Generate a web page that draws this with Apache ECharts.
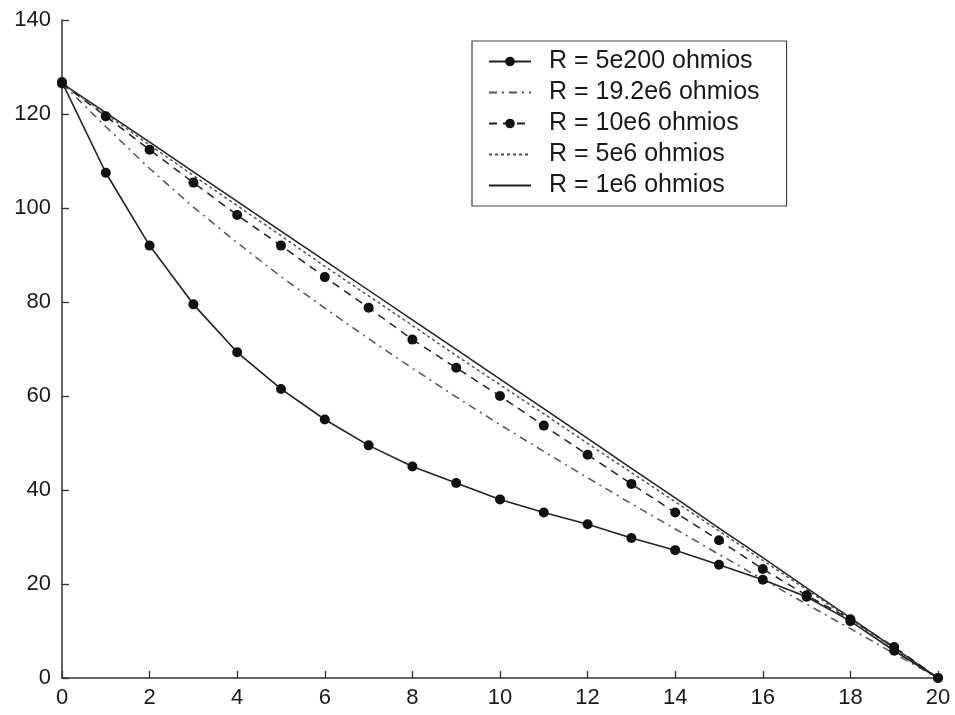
<!DOCTYPE html>
<html lang="es">

<head>
  <meta charset="UTF-8">
  <title>echarts</title>
  <script src="https://cdn.jsdelivr.net/npm/echarts@6/dist/echarts.min.js"></script>
  <style>
    html,
    body {
      padding: 0;
      margin: 0;
      background: #fff;
    }

    #chart {
      height: 715px;
      width: 955px;
    }
  </style>
</head>

<body>
  <div id="chart"></div>
  <script>
    // posiciones a lo largo de la cadena (eje x)
    const xValues = [0, 1, 2, 3, 4, 5, 6, 7, 8, 9, 10, 11, 12, 13, 14, 15, 16, 17, 18, 19, 20]

    const r5e200 = [126.8, 107.5, 92, 79.5, 69.3, 61.5, 55, 49.5, 45, 41.5, 38,
      35.2, 32.7, 29.8, 27.2, 24.1, 20.9, 17.3, 12.1, 5.8, 0]
    const r19e6 = [126.5, 117.3, 108.4, 100.2, 92.6, 85.4, 78.7, 72.2, 65.9, 59.8, 53.9,
      48.2, 42.6, 37.1, 31.7, 26.3, 21.0, 15.7, 10.5, 5.2, 0]
    const r10e6 = [126.5, 119.5, 112.4, 105.4, 98.5, 92, 85.3, 78.8, 72, 66, 60,
      53.7, 47.5, 41.3, 35.2, 29.3, 23.2, 17.6, 12.5, 6.6, 0]
    const r5e6 = [126.5, 120, 113.4, 106.9, 100.5, 94.1, 87.6, 81.3, 75, 68.6, 62.4,
      56.2, 49.9, 43.7, 37.5, 31.3, 25.0, 18.8, 12.5, 6.3, 0]
    const r1e6 = [126.5, 120.3, 114.0, 107.7, 101.4, 95.1, 88.8, 82.5, 76.2, 69.9, 63.6,
      57.3, 51.0, 44.6, 38.3, 31.9, 25.6, 19.2, 12.8, 6.4, 0]

    const pares = ys => xValues.map((x, i) => [x, ys[i]])
    const sinMarca = { opacity: 0 } // la leyenda no lleva punto para las curvas sin marcadores

    const chart = echarts.init(document.getElementById('chart'))
    chart.setOption({
      animation: false,
      textStyle: { fontFamily: 'Liberation Sans, Arial, sans-serif' },
      grid: { left: 62, right: 17, top: 20, bottom: 37 },
      legend: {
        orient: 'vertical',
        left: 472,
        top: 41,
        padding: [8, 27, 8, 16],
        borderColor: '#444',
        borderWidth: 1.2,
        backgroundColor: '#fff',
        itemWidth: 42,
        itemHeight: 12,
        itemGap: 6,
        textStyle: { fontSize: 25, lineHeight: 23, color: '#1a1a1a', fontFamily: 'Liberation Sans', padding: [0, 0, 0, 13] },
        data: [
          'R = 5e200 ohmios',
          { name: 'R = 19.2e6 ohmios', itemStyle: sinMarca },
          'R = 10e6 ohmios',
          { name: 'R = 5e6 ohmios', itemStyle: sinMarca },
          { name: 'R = 1e6 ohmios', itemStyle: sinMarca }
        ]
      },
      xAxis: {
        type: 'value',
        min: 0,
        max: 20,
        interval: 2,
        splitLine: { show: false },
        axisLine: { onZero: false, lineStyle: { color: '#333', width: 1.5 } },
        axisTick: { inside: true, length: 7, lineStyle: { color: '#333', width: 1.3 } },
        axisLabel: { fontSize: 22, color: '#1a1a1a', margin: 9 }
      },
      yAxis: {
        type: 'value',
        min: 0,
        max: 140,
        interval: 20,
        splitLine: { show: false },
        axisLine: { show: true, lineStyle: { color: '#333', width: 1.5 } },
        axisTick: { show: true, inside: true, length: 7, lineStyle: { color: '#333', width: 1.3 } },
        axisLabel: { fontSize: 22, color: '#1a1a1a', margin: 11 }
      },
      series: [{
        name: 'R = 1e6 ohmios',
        type: 'line',
        data: pares(r1e6),
        symbol: 'none',
        itemStyle: { color: '#222' },
        lineStyle: { color: '#222', width: 1.5 },
        z: 1
      }, {
        name: 'R = 5e6 ohmios',
        type: 'line',
        data: pares(r5e6),
        symbol: 'none',
        itemStyle: { color: '#555' },
        lineStyle: { color: '#555', width: 1.5, type: [3, 3] },
        z: 2
      }, {
        name: 'R = 19.2e6 ohmios',
        type: 'line',
        data: pares(r19e6),
        symbol: 'none',
        itemStyle: { color: '#555' },
        lineStyle: { color: '#555', width: 1.5, type: [8, 5, 2, 5] },
        z: 3
      }, {
        name: 'R = 10e6 ohmios',
        type: 'line',
        data: pares(r10e6),
        symbol: 'circle',
        symbolSize: 10,
        itemStyle: { color: '#111' },
        lineStyle: { color: '#222', width: 1.5, type: [8, 6] },
        z: 4
      }, {
        name: 'R = 5e200 ohmios',
        type: 'line',
        data: pares(r5e200),
        symbol: 'circle',
        symbolSize: 10,
        itemStyle: { color: '#111' },
        lineStyle: { color: '#222', width: 1.6 },
        z: 5
      }]
    })
  </script>
</body>

</html>
